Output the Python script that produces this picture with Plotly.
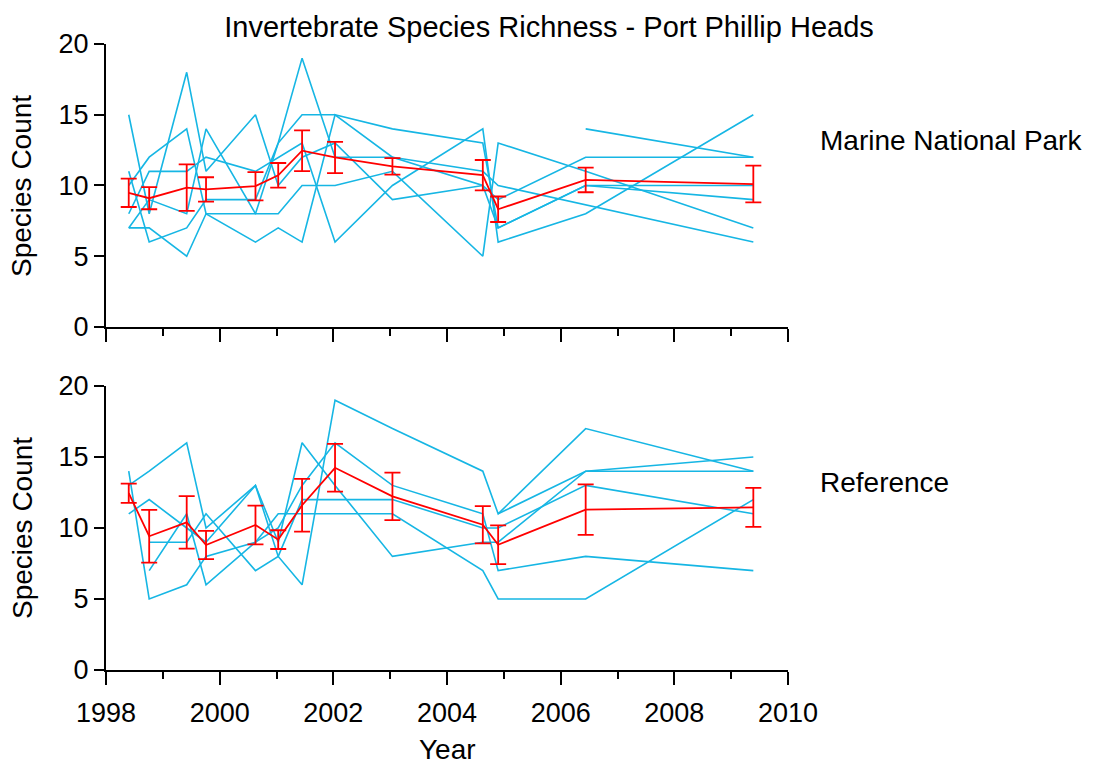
import plotly.graph_objects as go

# Survey times (decimal years)
survey_year = [1998.40, 1998.76, 1999.42, 1999.76, 2000.63, 2001.03, 2001.45,
               2002.03, 2003.04, 2004.63, 2004.90, 2006.44, 2009.39]

# Marine National Park sites: species count per survey (None = not surveyed)
mnp_site_1 = [15, 8, 18, 11, 15, 10, 12, 13, 9, 10, 9, 12, 12]
mnp_site_2 = [11, 6, 7, 9, 9, 13, 19, 12, 12, 11, 10, None, 6]
mnp_site_3 = [10, 12, 14, 8, 8, 13, 15, 15, 14, 13, 7, 10, 10]
mnp_site_4 = [8, 11, 11, 12, 11, 12, 13, 6, 10, 14, 6, 8, 15]
mnp_site_5 = [7, 9, 8, 14, 8, 8, 10, 10, 11, 5, 13, 11, 7]
mnp_site_6 = [7, 7, 5, 8, 6, 7, 6, 15, 12, 10, 7, 10, 9]
mnp_site_7 = [None] * 11 + [14, 12]

# Marine National Park mean and standard error
mnp_mean = [9.48, 9.10, 9.85, 9.72, 9.95, 10.72, 12.46, 11.98, 11.35, 10.73, 8.32, 10.39, 10.10]
mnp_se = [1.00, 0.78, 1.64, 0.86, 1.00, 0.87, 1.44, 1.10, 0.58, 1.07, 0.90, 0.87, 1.30]

# Reference sites
ref_site_1 = [14, 5, 6, 8, 9, 11, 11, 11, 11, 7, 5, 5, 12]
ref_site_2 = [13, 14, 16, 10, 13, 8, 6, 19, 17, 14, 11, 17, 14]
ref_site_3 = [11, 12, 10, 9, 13, 9, 16, 13, 8, 9, 9, 14, 14]
ref_site_4 = [None, 9, 9, 11, 7, 8, 12, 12, 12, 10, 10, 13, 11]
ref_site_5 = [None, 7, 11, 6, 9, 10, 13, 16, 13, 11, 7, 8, 7]
ref_site_6 = [None] * 10 + [11, 14, 15]

# Reference mean and standard error
ref_mean = [12.45, 9.42, 10.40, 8.80, 10.21, 9.18, 11.60, 14.24, 12.23, 10.23, 8.82, 11.29, 11.45]
ref_se = [0.68, 1.86, 1.85, 0.99, 1.36, 0.66, 1.86, 1.68, 1.67, 1.31, 1.36, 1.78, 1.37]

panel_names = ["Marine National Park", "Reference"]
year_ticks = [1998, 2000, 2002, 2004, 2006, 2008, 2010]
count_ticks = [0, 5, 10, 15, 20]

SITE_COLOR = "rgb(22,182,228)"
MEAN_COLOR = "rgb(255,0,0)"
FONT = "Liberation Sans, Arial, sans-serif"

fig = go.Figure()

panels = [
    ([mnp_site_1, mnp_site_2, mnp_site_3, mnp_site_4, mnp_site_5, mnp_site_6, mnp_site_7],
     mnp_mean, mnp_se, "x", "y"),
    ([ref_site_1, ref_site_2, ref_site_3, ref_site_4, ref_site_5, ref_site_6],
     ref_mean, ref_se, "x2", "y2"),
]

for sites, mean, se, xa, ya in panels:
    for site in sites:
        fig.add_trace(go.Scatter(
            x=survey_year, y=site, mode="lines", connectgaps=True,
            line=dict(color=SITE_COLOR, width=1.6),
            xaxis=xa, yaxis=ya, showlegend=False, hoverinfo="skip"))
    fig.add_trace(go.Scatter(
        x=survey_year, y=mean, mode="lines",
        line=dict(color=MEAN_COLOR, width=1.8),
        error_y=dict(type="data", array=se, visible=True,
                     color=MEAN_COLOR, thickness=1.8, width=8),
        xaxis=xa, yaxis=ya, showlegend=False))

axis_common = dict(
    showline=True, linecolor="black", linewidth=2,
    ticks="outside", tickcolor="black", tickwidth=2,
    showgrid=False, zeroline=False,
    tickfont=dict(family=FONT, size=27, color="black"),
)

x_common = dict(
    axis_common, range=[1998, 2010], tickvals=year_ticks, ticklen=13,
    minor=dict(dtick=1, tick0=1998, ticks="outside", ticklen=7,
               tickcolor="black", tickwidth=2, showgrid=False),
)
y_common = dict(axis_common, range=[0, 20], tickvals=count_ticks, ticklen=10)

fig.update_layout(
    width=1098, height=765,
    margin=dict(l=106, r=310, t=44, b=95),
    paper_bgcolor="white", plot_bgcolor="white",
    font=dict(family=FONT, color="black"),
    title=dict(text="Invertebrate Species Richness - Port Phillip Heads",
               x=0.5, xref="container", xanchor="center",
               y=1 - 27 / 765, yref="container", yanchor="middle",
               font=dict(family=FONT, size=29, color="black")),
    xaxis=dict(x_common, anchor="y", showticklabels=False),
    yaxis=dict(y_common, domain=[0.548, 1.0], anchor="x"),
    xaxis2=dict(x_common, anchor="y2", ticklabelstandoff=5),
    yaxis2=dict(y_common, domain=[0.0, 0.4537], anchor="x2"),
)

label_font = dict(family=FONT, size=28, color="black")
plot_w = 1098 - 106 - 310
plot_h = 765 - 44 - 95

annotations = [
    dict(text=panel_names[0], x=(818 - 106) / plot_w, y=1 - (141 - 44) / plot_h),
    dict(text=panel_names[1], x=(818 - 106) / plot_w, y=1 - (483 - 44) / plot_h),
]
for a in annotations:
    a.update(xref="paper", yref="paper", xanchor="left", yanchor="middle",
             showarrow=False, font=label_font)

for yc in (186, 528):
    annotations.append(dict(
        text="Species Count", textangle=-90,
        x=(22 - 106) / plot_w, y=1 - (yc - 44) / plot_h,
        xref="paper", yref="paper", xanchor="center", yanchor="middle",
        showarrow=False, font=label_font))

annotations.append(dict(
    text="Year", x=(447 - 106) / plot_w, y=1 - (749 - 44) / plot_h,
    xref="paper", yref="paper", xanchor="center", yanchor="middle",
    showarrow=False, font=label_font))

fig.update_layout(annotations=annotations)

fig.write_html("out.html")
